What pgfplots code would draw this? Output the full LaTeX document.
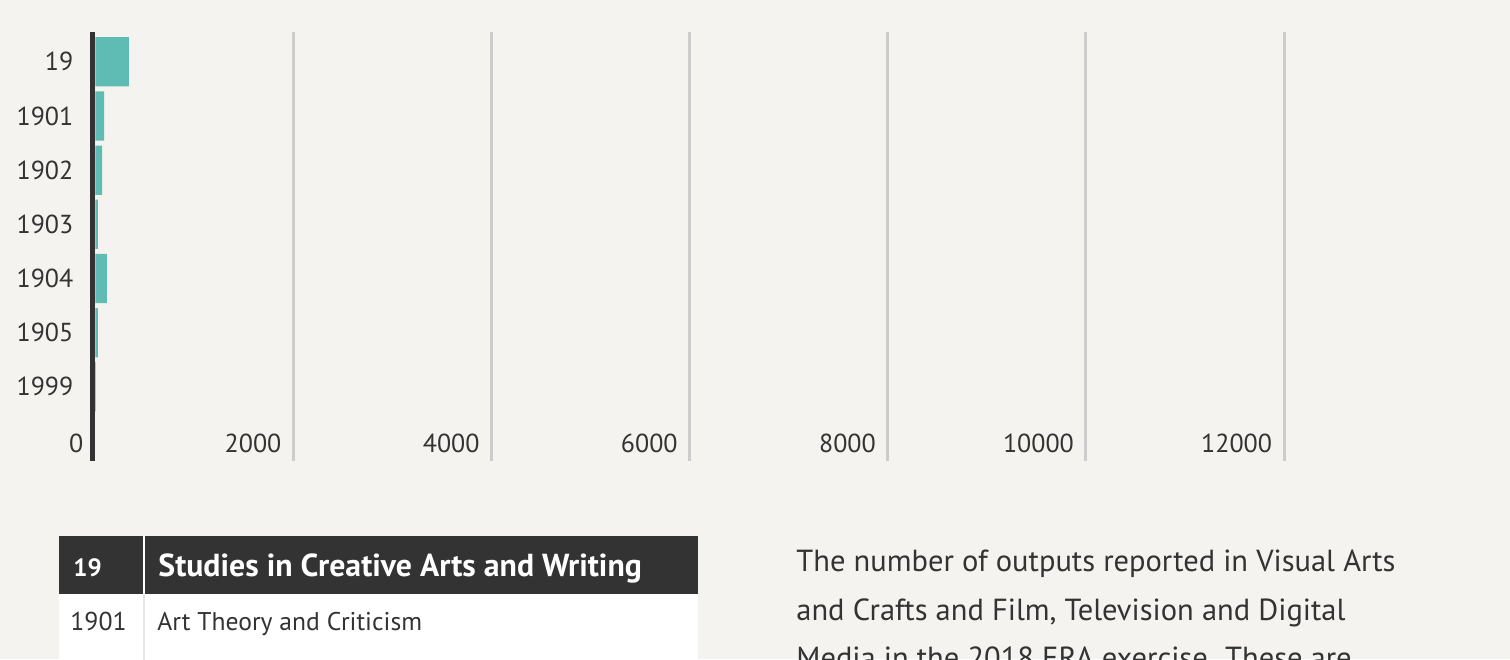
\documentclass[border=0pt]{standalone}
\usepackage{pgfplots}
\pgfplotsset{compat=1.18}
\usepackage{fontspec}
\setmainfont{PT Sans}
\definecolor{bg}{HTML}{F4F3EF}
\definecolor{barteal}{HTML}{5EBCB4}
\definecolor{ink}{HTML}{333333}
\definecolor{gridc}{HTML}{CCCCCC}
\definecolor{sepc}{HTML}{E6E6E6}

\begin{document}
\begin{tikzpicture}[x=0.5pt,y=-0.5pt]
  \useasboundingbox (0,0) rectangle (1510,659);
  \clip (0,0) rectangle (1510,659);
  \fill[bg] (0,0) rectangle (1510,659);

  \begin{axis}[
      at={(47.65pt,-230.5pt)}, anchor=south west,
      scale only axis, width=594.35pt, height=214.65pt,
      xmin=0, xmax=12000,
      ymin=-0.556, ymax=7.37, y dir=reverse,
      xbar, bar width=0.91,
      ytick={0,...,6},
      yticklabels={19,1901,1902,1903,1904,1905,1999},
      xtick={2000,4000,...,12000},
      extra x ticks={0},
      extra x tick style={major grid style={ink, line width=2.4pt, xshift=-1.2pt}},
      xmajorgrids,
      major grid style={gridc, line width=1.5pt},
      axis line style={draw=none},
      major tick length=0pt,
      tick label style={font=\fontsize{13}{13}\selectfont, text=ink, inner sep=0pt},
      xticklabel style={anchor=east, xshift=-5.8pt, yshift=9pt},
      yticklabel style={anchor=east, xshift=-10.8pt},
      /pgf/number format/assume math mode=true,
      /pgf/number format/1000 sep={},
      scaled x ticks=false,
    ]
    \addplot[fill=barteal, draw=none] coordinates {
      (340,0) (88,1) (68,2) (27,3) (118,4) (27,5) (7,6)
    };
  \end{axis}

  % table below the chart
  \fill[ink] (59,536) rectangle (698,594);
  \fill[white] (59,594) rectangle (698,680);
  \draw[white, line width=0.75pt] (144,536) -- (144,594);
  \draw[sepc, line width=0.75pt] (144,594) -- (144,680);
  \node[anchor=base west, inner sep=0pt, text=white, font=\bfseries\fontsize{12.5}{12.5}\selectfont] at (73,576) {19};
  \node[anchor=base west, inner sep=0pt, text=white, font=\bfseries\fontsize{15.9}{15.9}\selectfont] at (158,576.7) {Studies in Creative Arts and Writing};
  \node[anchor=base west, inner sep=0pt, text=ink, font=\fontsize{12.9}{12.9}\selectfont] at (70,630.7) {1901};
  \node[anchor=base west, inner sep=0pt, text=ink, font=\fontsize{12.8}{12.8}\selectfont] at (157,630.7) {Art Theory and Criticism};

  % paragraph on the right
  \begin{scope}[every node/.style={anchor=base west, inner sep=0pt, text=ink, font=\fontsize{15.25}{15.25}\selectfont}]
    \node at (796,571.7) {The number of outputs reported in Visual Arts};
    \node at (796,620) {and Crafts and Film, Television and Digital};
    \node at (796,668.3) {Media in the 2018 ERA exercise. These are};
  \end{scope}
\end{tikzpicture}
\end{document}
